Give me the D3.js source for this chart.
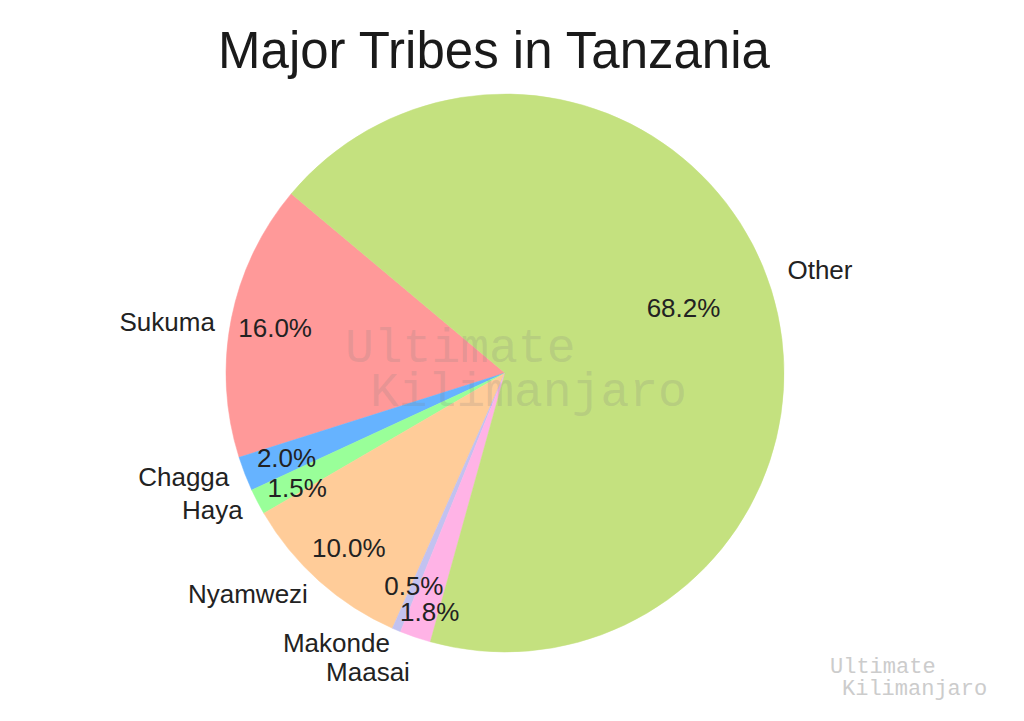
<!DOCTYPE html>
<html>
<head>
<meta charset="utf-8">
<script src="https://cdn.jsdelivr.net/npm/d3@7"></script>
<style>
  html, body { margin: 0; padding: 0; background: #ffffff; }
  svg text { font-family: "Liberation Sans", Arial, sans-serif; }
  svg text.mark { font-family: "Liberation Mono", "Courier New", monospace; }
</style>
</head>
<body>
<div id="pie-vis"></div>
<script>
// chart data
const tribes = ["Sukuma", "Chagga", "Haya", "Nyamwezi", "Makonde", "Maasai", "Other"];
const shares = [16.0, 2.0, 1.5, 10.0, 0.5, 1.8, 68.2];
const sliceColors = ["#ff9999", "#66b3ff", "#99ff99", "#ffcc99", "#c2c2f0", "#ffb3e6", "#c4e17f"];

// layout
const width = 1024, height = 721;
const cx = 505, cy = 373, radius = 279;
const startDeg = 140;          // matplotlib style start angle, counter clockwise
const labelDistance = 1.06;
const pctDistance = 0.84;
const pctDistanceOverride = {"Other": 0.67};
// small nudges so crowded labels don't collide
const labelNudge = {"Sukuma": 6, "Chagga": -3, "Makonde": -3, "Maasai": 19, "Other": -15};
const pctNudge = {"0.5%": -3, "1.5%": 7, "1.8%": 17, "68.2%": -10};

const svg = d3.select("#pie-vis").append("svg")
    .attr("width", width)
    .attr("height", height);

// title
svg.append("text")
    .attr("x", 494).attr("y", 68)
    .attr("text-anchor", "middle")
    .style("font-size", "51px")
    .style("fill", "#1a1a1a")
    .text("Major Tribes in Tanzania");

// convert to d3 angles (clockwise from 12 o'clock)
const a0 = (90 - startDeg) * Math.PI / 180;
const pie = d3.pie().sort(null).value(d => d.value)
    .startAngle(a0).endAngle(a0 - 2 * Math.PI);

const data = tribes.map((t, i) => ({name: t, value: shares[i], color: sliceColors[i]}));
const arcs = pie(data);

const arc = d3.arc().innerRadius(0).outerRadius(radius);

const g = svg.append("g").attr("transform", `translate(${cx},${cy})`);

g.selectAll("path.slice")
    .data(arcs)
    .enter().append("path")
    .attr("class", "slice")
    .attr("d", arc)
    .style("fill", d => d.data.color)
    .style("stroke", d => d.data.color)
    .style("stroke-width", 0.5);

function polar(d, k) {
    let a = (d.startAngle + d.endAngle) / 2;
    return [k * radius * Math.sin(a), -k * radius * Math.cos(a)];
}

function pctText(d) { return d.data.value.toFixed(1) + "%"; }

// category labels outside
g.selectAll("text.label")
    .data(arcs)
    .enter().append("text")
    .attr("class", "label")
    .attr("x", d => polar(d, labelDistance)[0])
    .attr("y", d => polar(d, labelDistance)[1] + (labelNudge[d.data.name] || 0))
    .attr("dy", "0.35em")
    .attr("text-anchor", d => polar(d, 1)[0] < 0 ? "end" : "start")
    .style("font-size", "26px")
    .style("fill", "#222")
    .text(d => d.data.name);

// percentage labels
g.selectAll("text.pct")
    .data(arcs)
    .enter().append("text")
    .attr("class", "pct")
    .attr("x", d => polar(d, pctDistanceOverride[d.data.name] || pctDistance)[0])
    .attr("y", d => polar(d, pctDistanceOverride[d.data.name] || pctDistance)[1] + (pctNudge[pctText(d)] || 0))
    .attr("dy", "0.35em")
    .attr("text-anchor", "middle")
    .style("font-size", "26px")
    .style("fill", "#222")
    .text(pctText);

// watermarks
const wm = svg.append("g");

wm.append("text").attr("class", "mark").attr("x", 345).attr("y", 362)
    .style("font-size", "48px").style("fill", "#808080").style("fill-opacity", 0.2)
    .text("Ultimate");
wm.append("text").attr("class", "mark").attr("x", 370).attr("y", 406)
    .style("font-size", "48px").style("fill", "#808080").style("fill-opacity", 0.2)
    .text("Kilimanjaro");

wm.append("text").attr("class", "mark").attr("x", 830).attr("y", 673)
    .style("font-size", "22px").style("fill", "#cccccc")
    .text("Ultimate");
wm.append("text").attr("class", "mark").attr("x", 842).attr("y", 695)
    .style("font-size", "22px").style("fill", "#cccccc")
    .text("Kilimanjaro");
</script>
</body>
</html>
